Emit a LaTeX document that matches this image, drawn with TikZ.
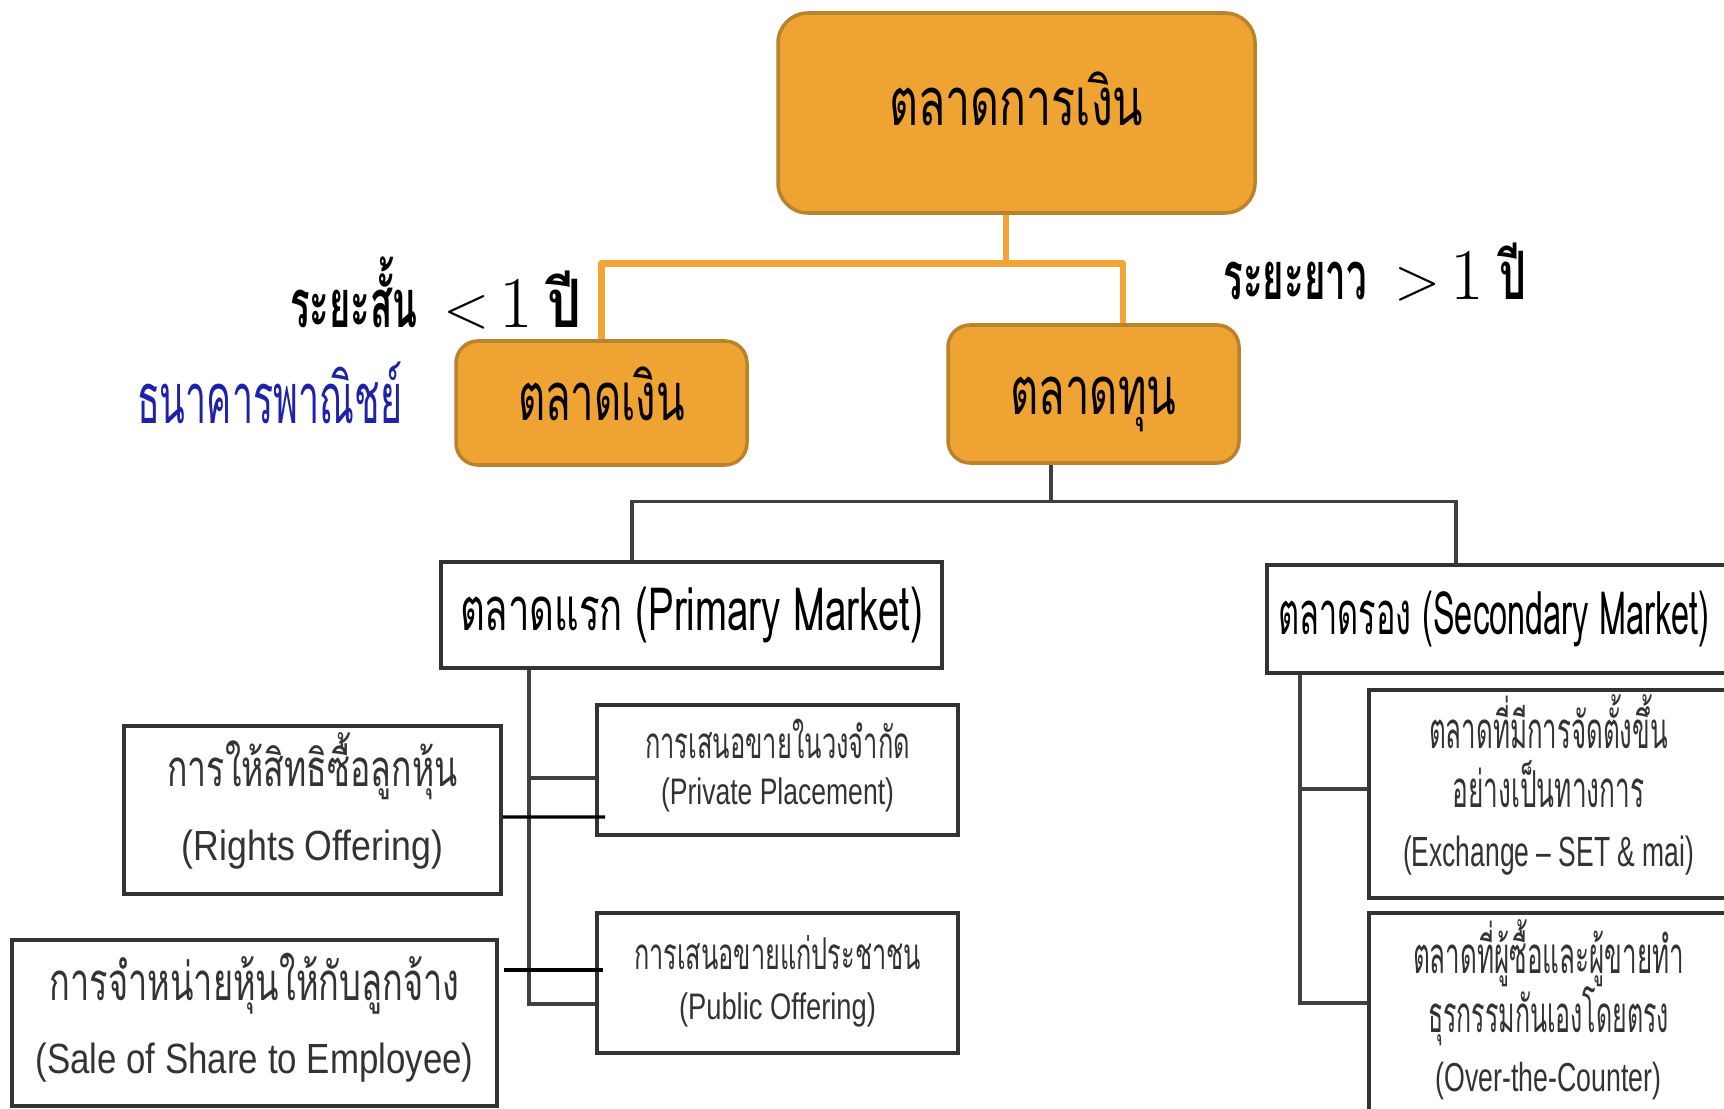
\documentclass[tikz,border=0pt]{standalone}
\usepackage{fontspec}
\usepackage{graphicx}
\setmainfont{Liberation Sans}
\newfontfamily\thaifont[Script=Thai]{Loma}
\usetikzlibrary{positioning}
% lower a piece of text and give it no height
\newcommand{\lowr}[1]{\smash{\raisebox{-0.5ex}{#1}}}
% one line of text, squeezed to a given width
\newcommand{\fitw}[2]{\lowr{\resizebox{#1}{\height}{#2}}}
\definecolor{mktorange}{HTML}{EFA332}
\definecolor{mktedge}{HTML}{B9822C}
\definecolor{linkorange}{HTML}{F2A536}
\definecolor{bankblue}{HTML}{1E22A8}
\definecolor{txtgray}{HTML}{333333}

\begin{document}
\begin{tikzpicture}[
    market/.style={draw=mktedge, fill=mktorange, line width=1pt, rounded corners=0.3cm,
      font=\thaifont\fontsize{19}{19}\selectfont},
    subbox/.style={draw=black!80, line width=1.2pt, align=center, text=txtgray},
    olink/.style={draw=linkorange, line width=1.9pt, line join=round},
    glink/.style={draw=black!75, line width=0.9pt},
    klink/.style={draw=black, line width=0.9pt}
  ]
  \useasboundingbox (0,0) rectangle (17.24,-11.09);

  % orange part
  \node[market, minimum width=4.77cm, minimum height=2cm] (finmkt) at (10.165,-1.13)
    {\raisebox{0.09cm}{\fitw{2.54cm}{ตลาดการเงิน}}};
  \node[market, rounded corners=0.22cm, minimum width=2.91cm, minimum height=1.24cm] (money) at (6.015,-4.03)
    {\fitw{1.67cm}{ตลาดเงิน}};
  \node[market, rounded corners=0.22cm, minimum width=2.91cm, minimum height=1.38cm] (capital) at (10.935,-3.94)
    {\raisebox{-0.07cm}{\fitw{1.66cm}{ตลาดทุน}}};

  \node[font=\fontsize{19}{19}\selectfont] (short) at (4.36,-3.10)
    {\fitw{1.27cm}{\thaifont\bfseries ระยะสั้น}\hspace{0.26cm}%
     \lowr{\fontsize{17}{17}\selectfont$<$}\hspace{0.1cm}%
     \lowr{\fontsize{20}{20}\selectfont$1$}\hspace{0.15cm}%
     \fitw{0.34cm}{\thaifont\bfseries ปี}};
  \node[font=\fontsize{19}{19}\selectfont] (long) at (13.75,-2.82)
    {\fitw{1.43cm}{\thaifont\bfseries ระยะยาว}\hspace{0.28cm}%
     \lowr{\fontsize{17}{17}\selectfont$>$}\hspace{0.1cm}%
     \lowr{\fontsize{20}{20}\selectfont$1$}\hspace{0.15cm}%
     \fitw{0.27cm}{\thaifont\bfseries ปี}};
  \node[text=bankblue, font=\thaifont\fontsize{20}{20}\selectfont] (bank) at (2.695,-4.05)
    {\fitw{2.65cm}{ธนาคารพาณิชย์}};

  \draw[olink] ([xshift=-0.105cm]finmkt.south) -- ++(0,-0.49) coordinate (osplit);
  \draw[olink] (money.north) |- (osplit) -| ([xshift=0.295cm]capital.north);

  % capital market
  \node[subbox, line width=1.1pt, text=black, minimum width=5.01cm, minimum height=1.06cm,
    font=\thaifont\fontsize{17}{17}\selectfont] (primary) at (6.915,-6.15)
    {\fitw{4.63cm}{ตลาดแรก (Primary Market)}};
  \node[subbox, line width=1.1pt, text=black, minimum width=4.6cm, minimum height=1.08cm,
    font=\thaifont\fontsize{17}{17}\selectfont] (secondary) at (15.04,-6.19)
    {\fitw{4.31cm}{ตลาดรอง (Secondary Market)}\hspace*{0.2cm}};

  \draw[glink] ([xshift=-0.425cm]capital.south) -- ++(0,-0.37) coordinate (gsplit);
  \draw[glink] ([xshift=-0.595cm]primary.north) |- (gsplit) -| ([xshift=-0.48cm]secondary.north);

  % primary market
  \node[subbox, minimum width=3.61cm, minimum height=1.30cm, font=\fontsize{12.5}{13.1}\selectfont] (private) at (7.775,-7.70)
    {\fitw{2.65cm}{\thaifont การเสนอขายในวงจำกัด}\\
     \fitw{2.33cm}{\fontsize{10.5}{12}\selectfont (Private Placement)}};
  \node[subbox, minimum width=3.61cm, minimum height=1.40cm, font=\fontsize{12.5}{14.2}\selectfont] (public) at (7.775,-9.83)
    {\fitw{2.87cm}{\thaifont การเสนอขายแก่ประชาชน}\\
     \fitw{1.97cm}{\fontsize{10.5}{12}\selectfont (Public Offering)}};
  \node[subbox, line width=1pt, minimum width=3.77cm, minimum height=1.68cm, font=\fontsize{14.5}{21}\selectfont] (rights) at (3.125,-8.10)
    {\fitw{2.90cm}{\thaifont การให้สิทธิซื้อลูกหุ้น}\\
     \fitw{2.61cm}{\fontsize{12}{14}\selectfont (Rights Offering)}};
  \node[subbox, line width=1pt, minimum width=4.85cm, minimum height=1.66cm, font=\fontsize{15}{20.8}\selectfont] (sale) at (2.545,-10.23)
    {\fitw{4.10cm}{\thaifont การจำหน่ายหุ้นให้กับลูกจ้าง}\\
     \fitw{4.38cm}{\fontsize{12}{14}\selectfont (Sale of Share to Employee)}};

  \coordinate (ptrunk) at ([xshift=-1.625cm]primary.south);
  \draw[glink] (ptrunk) |- ([yshift=-0.08cm]private.west);
  \draw[glink] (ptrunk) |- ([yshift=-0.21cm]public.west);
  \coordinate (rtip) at (6.05,-8.17);
  \coordinate (stip) at (6.03,-9.70);
  \draw[klink] ([yshift=-0.07cm]rights.east) -- (rtip);
  \draw[klink] ([xshift=0.05cm,yshift=0.53cm]sale.east) -- (stip);

  % secondary market
  \node[subbox, minimum width=3.59cm, minimum height=2.08cm, font=\fontsize{14.5}{16.9}\selectfont] (exchange) at (15.485,-7.94)
    {\fitw{2.39cm}{\thaifont ตลาดที่มีการจัดตั้งขึ้น}\\
     \fitw{1.92cm}{\thaifont อย่างเป็นทางการ}\\
     \fitw{2.91cm}{\fontsize{12}{14}\selectfont (Exchange -- SET \& mai)}};
  \node[subbox, minimum width=3.59cm, minimum height=2.12cm, font=\fontsize{14.5}{16.9}\selectfont] (otc) at (15.485,-10.19)
    {\fitw{2.71cm}{\thaifont ตลาดที่ผู้ซื้อและผู้ขายทำ}\\
     \fitw{2.41cm}{\thaifont ธุรกรรมกันเองโดยตรง}\\
     \fitw{2.26cm}{\fontsize{11.5}{14}\selectfont (Over-the-Counter)}};

  \coordinate (strunk) at ([xshift=-2.04cm]secondary.south);
  \draw[glink] (strunk) |- ([yshift=0.05cm]exchange.west);
  \draw[glink] (strunk) |- ([yshift=0.16cm]otc.west);
\end{tikzpicture}
\end{document}
